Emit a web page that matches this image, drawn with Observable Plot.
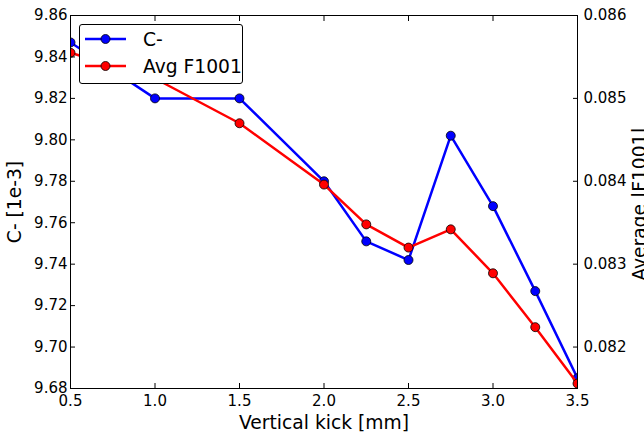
<!DOCTYPE html>
<html><head><meta charset="utf-8">
<script src="https://cdn.jsdelivr.net/npm/d3@7"></script>
<script src="https://cdn.jsdelivr.net/npm/@observablehq/plot@0.6"></script>
<style>
body{margin:0;background:#fff}
#wrap{position:relative;width:644px;height:432px;font-family:"DejaVu Sans",sans-serif;overflow:hidden}
#legend{position:absolute;left:79px;top:24px;width:164px;height:60px;border:1px solid #000;border-radius:3px;background:#fff;box-sizing:border-box}
#legend .row{position:absolute;left:0;height:26px;display:flex;align-items:center}
#legend .row span{font-size:18.7px;margin-left:13px;color:#000}
</style></head><body>
<div id="wrap"><div id="legend"></div></div>
<script>
const kick = [0.5, 1.0, 1.5, 2.0, 2.25, 2.5, 2.75, 3.0, 3.25, 3.5];
const cMinus = [9.847, 9.820, 9.820, 9.780, 9.751, 9.742, 9.802, 9.768, 9.727, 9.685];
const avgF1001 = [0.08555, 0.08524, 0.08470, 0.08396, 0.08348, 0.08320, 0.08342, 0.08289, 0.08224, 0.08156];
const xTicks = [0.5, 1.0, 1.5, 2.0, 2.5, 3.0, 3.5];
const leftTicks = [9.68, 9.70, 9.72, 9.74, 9.76, 9.78, 9.80, 9.82, 9.84, 9.86];
const rightTicks = [0.082, 0.083, 0.084, 0.085, 0.086];
const leftDomain = [9.68, 9.86];
const rightDomain = [0.0815, 0.086];
const seriesNames = ["C-", "Avg F1001"];
const seriesColors = ["#0000ff", "#ff0000"];

const k = (leftDomain[1] - leftDomain[0]) / (rightDomain[1] - rightDomain[0]);
const toLeft = v => leftDomain[0] + (v - rightDomain[0]) * k;
const fromLeft = v => rightDomain[0] + (v - leftDomain[0]) / k;

const blue = kick.map((x, i) => ({x, y: cMinus[i]}));
const red = kick.map((x, i) => ({x, y: toLeft(avgF1001[i])}));

const fs = 15;
const ls = 18.7;
const chart = Plot.plot({
  width: 644, height: 432,
  marginLeft: 70, marginRight: 67, marginTop: 15, marginBottom: 44,
  style: {fontFamily: "DejaVu Sans", fontSize: fs + "px", background: "white", color: "black"},
  x: {domain: [0.5, 3.5]},
  y: {domain: leftDomain},
  marks: [
    Plot.line(blue, {x: "x", y: "y", stroke: seriesColors[0], strokeWidth: 2.5, clip: true}),
    Plot.dot(blue, {x: "x", y: "y", r: 4.5, fill: seriesColors[0], stroke: "black", strokeWidth: 0.8, clip: true}),
    Plot.line(red, {x: "x", y: "y", stroke: seriesColors[1], strokeWidth: 2.5, clip: true}),
    Plot.dot(red, {x: "x", y: "y", r: 4.5, fill: seriesColors[1], stroke: "black", strokeWidth: 0.8, clip: true}),
    Plot.frame({stroke: "black", strokeWidth: 1}),
    Plot.axisX({anchor: "bottom", ticks: xTicks, tickSize: -5, tickPadding: 12, tickFormat: d => d.toFixed(1), label: null, fontSize: fs}),
    Plot.axisX({anchor: "top", ticks: xTicks, tickSize: -5, tickFormat: () => "", label: null}),
    Plot.axisY({anchor: "left", ticks: leftTicks, tickSize: -5, tickPadding: 8, tickFormat: d => d.toFixed(2), label: null, fontSize: fs}),
    Plot.axisY({anchor: "right", ticks: rightTicks.map(toLeft), tickSize: -5, tickPadding: 11, tickFormat: d => fromLeft(d).toFixed(3), label: null, fontSize: fs}),
    Plot.text(["Vertical kick [mm]"], {text: d => d, frameAnchor: "bottom", dy: 35, textAnchor: "middle", lineAnchor: "middle", fontSize: ls}),
    Plot.text(["C- [1e-3]"], {text: d => d, frameAnchor: "left", dx: -55, rotate: -90, textAnchor: "middle", lineAnchor: "middle", fontSize: ls}),
    Plot.text(["Average |F1001|"], {text: d => d, frameAnchor: "right", dx: 63, dy: 2, rotate: -90, textAnchor: "middle", lineAnchor: "middle", fontSize: ls})
  ]
});
document.getElementById("wrap").prepend(chart);

const legend = document.getElementById("legend");
seriesNames.forEach((name, i) => {
  const row = document.createElement("div");
  row.className = "row";
  row.style.top = (1 + i * 27) + "px";
  row.innerHTML = `<svg width="50" height="26"><line x1="5" x2="46" y1="13" y2="13" stroke="${seriesColors[i]}" stroke-width="2.5"/><circle cx="25.5" cy="13" r="4.5" fill="${seriesColors[i]}" stroke="black" stroke-width="0.8"/></svg><span>${name}</span>`;
  legend.appendChild(row);
});
</script>
</body></html>
